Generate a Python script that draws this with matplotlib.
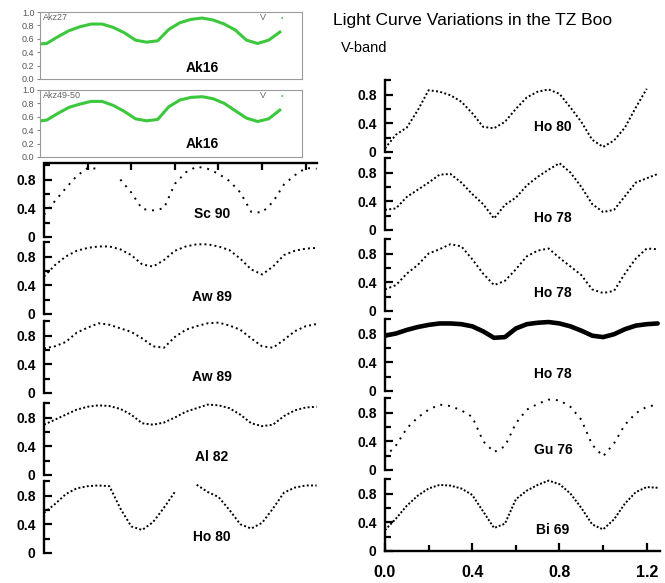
import numpy as np
import matplotlib
matplotlib.use('Agg')
import matplotlib.pyplot as plt

plt.rcParams['font.family'] = ['Liberation Sans', 'DejaVu Sans']

W, H = 665, 583
nan = np.nan

# orbital phase of the read-off points
phase = [0.0, 0.05, 0.10, 0.15, 0.20, 0.25, 0.30, 0.35, 0.40, 0.45, 0.50, 0.55, 0.60,
         0.65, 0.70, 0.75, 0.80, 0.85, 0.90, 0.95, 1.00, 1.05, 1.10, 1.15, 1.20, 1.25]
phase_ak = phase[:23]

# Ak16 (green, two runs)
ak16_a = [0.52, 0.53, 0.63, 0.72, 0.78, 0.82, 0.82, 0.77, 0.69, 0.58, 0.55, 0.57,
          0.74, 0.84, 0.89, 0.91, 0.88, 0.82, 0.73, 0.58, 0.53, 0.58, 0.70]
ak16_b = [0.53, 0.55, 0.65, 0.74, 0.79, 0.83, 0.83, 0.77, 0.68, 0.57, 0.54, 0.56,
          0.75, 0.85, 0.89, 0.90, 0.87, 0.80, 0.69, 0.58, 0.53, 0.57, 0.70]

# left column
sc90 = [0.31, 0.50, 0.68, 0.85, 0.96, 0.95, nan, 0.80, 0.62, 0.39, 0.37, 0.40, 0.74,
        0.90, 0.98, 0.95, 0.88, 0.78, 0.62, 0.35, 0.34, 0.49, 0.73, 0.86, 0.96, 0.95]
aw89_a = [0.52, 0.68, 0.80, 0.88, 0.92, 0.94, 0.94, 0.90, 0.82, 0.69, 0.66, 0.75, 0.88,
          0.94, 0.97, 0.97, 0.94, 0.89, 0.77, 0.62, 0.55, 0.66, 0.82, 0.88, 0.91, 0.92]
aw89_b = [0.62, 0.65, 0.71, 0.84, 0.91, 0.97, 0.95, 0.90, 0.85, 0.76, 0.65, 0.63, 0.78,
          0.88, 0.93, 0.97, 0.98, 0.94, 0.88, 0.76, 0.65, 0.63, 0.74, 0.86, 0.93, 0.96]
al82 = [0.70, 0.77, 0.84, 0.91, 0.95, 0.97, 0.96, 0.92, 0.84, 0.72, 0.70, 0.73, 0.80,
        0.88, 0.93, 0.98, 0.97, 0.93, 0.84, 0.72, 0.68, 0.70, 0.82, 0.90, 0.94, 0.95]
ho80_l = [0.56, 0.68, 0.82, 0.90, 0.93, 0.94, 0.93, 0.62, 0.37, 0.32, 0.43, 0.63, 0.85,
          nan, 0.95, 0.85, 0.78, 0.60, 0.40, 0.34, 0.42, 0.62, 0.84, 0.91, 0.94, 0.94]

# right column
ho80_r = [0.05, 0.24, 0.34, 0.58, 0.86, 0.84, 0.79, 0.70, 0.54, 0.35, 0.33, 0.42, 0.60,
          0.76, 0.84, 0.87, 0.81, 0.62, 0.42, 0.17, 0.07, 0.16, 0.34, 0.62, 0.88, nan]
ho78_a = [0.28, 0.30, 0.46, 0.56, 0.66, 0.77, 0.78, 0.66, 0.50, 0.36, 0.16, 0.35, 0.45,
          0.62, 0.74, 0.84, 0.93, 0.80, 0.60, 0.36, 0.25, 0.28, 0.47, 0.66, 0.72, 0.78]
ho78_b = [0.30, 0.36, 0.52, 0.64, 0.80, 0.86, 0.93, 0.90, 0.72, 0.52, 0.36, 0.42, 0.58,
          0.76, 0.84, 0.87, 0.74, 0.62, 0.50, 0.30, 0.25, 0.28, 0.52, 0.73, 0.87, 0.86]
ho78_c = [0.77, 0.80, 0.85, 0.89, 0.92, 0.94, 0.94, 0.93, 0.90, 0.83, 0.74, 0.75, 0.87,
          0.93, 0.95, 0.96, 0.94, 0.90, 0.84, 0.77, 0.75, 0.79, 0.86, 0.91, 0.93, 0.94]
gu76 = [0.18, 0.34, 0.58, 0.73, 0.84, 0.91, 0.89, 0.83, 0.74, 0.40, 0.25, 0.33, 0.65,
        0.84, 0.92, 0.98, 0.97, 0.88, 0.70, 0.35, 0.19, 0.37, 0.63, 0.79, 0.88, 0.91]
bi69 = [0.29, 0.45, 0.63, 0.77, 0.87, 0.92, 0.91, 0.87, 0.78, 0.55, 0.32, 0.38, 0.72,
        0.84, 0.92, 0.98, 0.93, 0.80, 0.60, 0.37, 0.30, 0.44, 0.66, 0.82, 0.89, 0.88]

left_curves = [sc90, aw89_a, aw89_b, al82, ho80_l]
left_labels = ['Sc 90', 'Aw 89', 'Aw 89', 'Al 82', 'Ho 80']
right_curves = [ho80_r, ho78_a, ho78_b, ho78_c, gu76, bi69]
right_labels = ['Ho 80', 'Ho 78', 'Ho 78', 'Ho 78', 'Gu 76', 'Bi 69']

# layout (pixels of the zero line, label heights, dot spacing)
left_zero = [237, 314, 393, 475, 553]
left_lab_y = [0.32, 0.24, 0.22, 0.25, 0.22]
left_gap = [3.0, 1.6, 1.6, 1.2, 1.2]
right_zero = [152, 230, 311, 391, 470, 551]
right_lab_y = [0.35, 0.17, 0.25, 0.24, 0.28, 0.29]
right_gap = [1.2, 1.2, 1.4, 0, 3.0, 1.0]

GREEN = '#3cc83c'

fig = plt.figure(figsize=(W / 100, H / 100), dpi=100)


def black_panel(x0, zero_px, mag, label, lab_y, gap):
    ax = fig.add_axes([x0 / W, 1 - (zero_px + 5) / H, 277 / W, 79 / H])
    ax.set_xlim(0, 1.27)
    ax.set_ylim(-0.07, 1.03)
    ax.patch.set_alpha(0)
    for s in ['top', 'right', 'bottom']:
        ax.spines[s].set_visible(False)
    ax.spines['left'].set_bounds(0, 1.0)
    ax.spines['left'].set_linewidth(1.7)
    ax.set_xticks([])
    ax.set_yticks([0, 0.4, 0.8])
    ax.set_yticklabels(['0', '0.4', '0.8'], fontweight='bold', fontsize=10)
    ax.set_yticks([0.2, 0.6, 1.0], minor=True)
    ax.tick_params(axis='y', which='both', direction='in', width=1.6, pad=6)
    ax.tick_params(axis='y', which='major', length=6)
    ax.tick_params(axis='y', which='minor', length=4)
    if gap == 0:
        # dense run: the dots merge into a band
        ax.plot(phase, mag, color='black', lw=3.3, solid_capstyle='round')
    else:
        ax.plot(phase, mag, color='black', lw=1.4, ls=(0, (1, gap)))
    ax.text(0.77, lab_y, label, ha='center', va='center',
            fontsize=10, fontweight='bold')
    return ax


def ak_panel(top_px, mag, tag, lab_y):
    ax = fig.add_axes([40 / W, 1 - (top_px + 67) / H, 262 / W, 67 / H])
    ax.set_xlim(0.02, 1.2)
    ax.set_ylim(0, 1)
    for s in ax.spines.values():
        s.set_color('#9a9a9a')
        s.set_linewidth(0.8)
    ax.set_xticks([])
    ax.set_yticks([0, 0.2, 0.4, 0.6, 0.8, 1.0])
    ax.set_yticklabels(['0.0', '0.2', '0.4', '0.6', '0.8', '1.0'],
                       fontsize=6.5, color='#555555')
    ax.tick_params(axis='y', length=2, color='#888888', pad=2)
    ax.plot(phase_ak, mag, color=GREEN, lw=2.2)
    ax.text(0.012, 0.92, tag, transform=ax.transAxes, fontsize=6.5,
            color='#666666', va='center')
    ax.text(0.85, 0.92, 'V', transform=ax.transAxes, fontsize=6.5,
            color='#666666', va='center', ha='center')
    ax.text(0.925, 0.91, '\u2022', transform=ax.transAxes, fontsize=5,
            color=GREEN, va='center', ha='center')
    ax.text(0.75, lab_y, 'Ak16', ha='center', va='center',
            fontsize=10, fontweight='bold')


ak_panel(12, ak16_a, 'Akz27', 0.17)
ak_panel(90, ak16_b, 'Akz49-50', 0.19)

for i in range(5):
    ax = black_panel(44, left_zero[i], left_curves[i], left_labels[i],
                     left_lab_y[i], left_gap[i])
    if i == 0:
        ax.spines['top'].set_visible(True)
        ax.spines['top'].set_bounds(0, 1.25)
        ax.spines['top'].set_linewidth(1.7)
        ax.xaxis.set_ticks_position('top')
        ax.set_xticks([0.2, 0.4, 0.6, 0.8, 1.0, 1.2])
        ax.set_xticklabels([])
        ax.tick_params(axis='x', direction='in', length=5, width=1.6)

for i in range(6):
    ax = black_panel(385, right_zero[i], right_curves[i], right_labels[i],
                     right_lab_y[i], right_gap[i])
    if i == 5:
        ax.spines['bottom'].set_visible(True)
        ax.spines['bottom'].set_position(('data', 0))
        ax.spines['bottom'].set_bounds(0, 1.26)
        ax.spines['bottom'].set_linewidth(1.7)
        ax.set_xticks([0.0, 0.4, 0.8, 1.2])
        ax.set_xticklabels(['0.0', '0.4', '0.8', '1.2'],
                           fontsize=11.5, fontweight='bold')
        ax.set_xticks([0.2, 0.6, 1.0], minor=True)
        ax.tick_params(axis='x', which='both', direction='in', width=1.6, pad=10)
        ax.tick_params(axis='x', which='major', length=6)
        ax.tick_params(axis='x', which='minor', length=4)

fig.text(333 / W, 1 - 21 / H, 'Light Curve Variations in the TZ Boo',
         fontsize=12.5, ha='left', va='center')
fig.text(341 / W, 1 - 48 / H, 'V-band', fontsize=10.5, ha='left', va='center')

fig.savefig('out.png', dpi=100)
